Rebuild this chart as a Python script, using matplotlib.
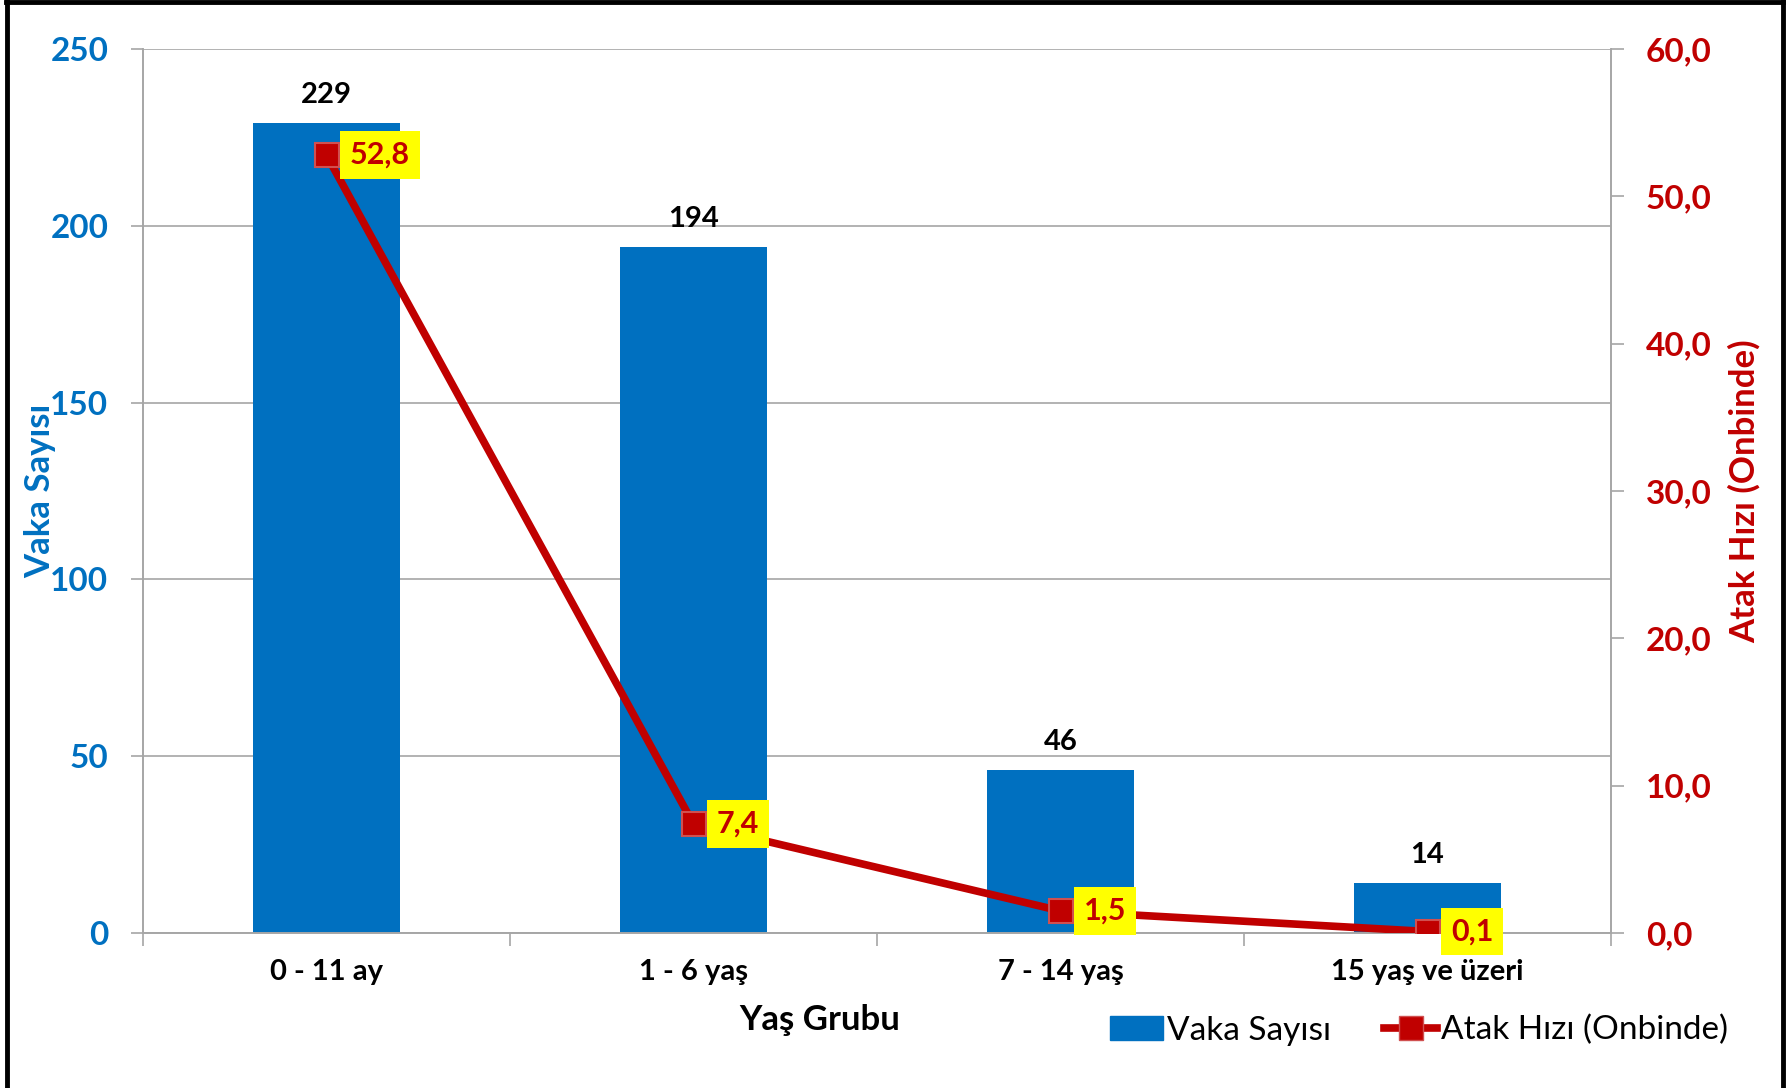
import numpy as np
import matplotlib
matplotlib.use("Agg")
import matplotlib.pyplot as plt
from matplotlib.lines import Line2D
from matplotlib.patches import Patch

plt.rcParams["font.family"] = ["Lato", "DejaVu Sans"]

# --- data ---
age_groups = ["0 - 11 ay", "1 - 6 yaş", "7 - 14 yaş", "15 yaş ve üzeri"]
case_counts = [229, 194, 46, 14]
attack_rates = [52.8, 7.4, 1.5, 0.1]

BLUE = "#0070C0"
RED = "#C00000"
GRID = "#A6A6A6"

fig = plt.figure(figsize=(17.91, 10.88), dpi=100)
ax = fig.add_axes([143 / 1791, 155 / 1088, 1468 / 1791, 884 / 1088])
ax2 = ax.twinx()

x = np.arange(len(age_groups))
ax.bar(x, case_counts, width=0.4, color=BLUE, zorder=2)
for xi, v in zip(x, case_counts):
    ax.annotate(f"{v}", (xi, v), xytext=(0, 11), textcoords="offset points",
                ha="center", va="bottom", fontsize=21, fontweight="bold", color="black")

ax.set_xlim(-0.5, len(age_groups) - 0.5)
ax.set_ylim(0, 250)
ax.set_yticks(np.arange(0, 251, 50))
ax.yaxis.grid(True, color=GRID, linewidth=1.2, zorder=0)
ax.set_axisbelow(True)
ax.tick_params(axis="y", length=9, width=1.2, color=GRID, pad=16,
               labelsize=24, labelcolor=BLUE)
for lbl in ax.get_yticklabels():
    lbl.set_fontweight("bold")

# category ticks sit between the groups
ax.set_xticks(x)
ax.set_xticklabels(age_groups, fontsize=21, fontweight="bold")
ax.tick_params(axis="x", length=0, pad=19)
ax.set_xticks(np.arange(-0.5, len(age_groups)), minor=True)
ax.tick_params(axis="x", which="minor", length=9, width=1.2, color=GRID)

ax.spines["top"].set_visible(False)
ax2.spines["top"].set_visible(False)
for a in (ax, ax2):
    for sp in ["left", "right", "bottom"]:
        a.spines[sp].set_color(GRID)
        a.spines[sp].set_linewidth(1.2)

ax.set_ylabel("Vaka Sayısı", fontsize=25, fontweight="bold", color=BLUE, va="center")
ax.yaxis.set_label_coords(-0.070, 0.5)
ax.set_xlabel("Yaş Grubu", fontsize=25, fontweight="bold", color="black", va="center")
ax.xaxis.set_label_coords((820 - 143) / 1468, -0.098)

# --- attack rate line ---
ax2.plot(x, attack_rates, color=RED, linewidth=5.5, marker="s", markersize=17,
         markerfacecolor=RED, markeredgecolor="#D05050", markeredgewidth=1.5, zorder=3)
for xi, v in zip(x, attack_rates):
    ax2.annotate(f"{v:.1f}".replace(".", ","), (xi, v), xytext=(17, 0),
                 textcoords="offset points", ha="left", va="center",
                 fontsize=22, fontweight="bold", color=RED,
                 bbox=dict(boxstyle="square,pad=0.32", facecolor="#FFFF00", edgecolor="none"))
ax2.set_ylim(0, 60)
ax2.set_yticks(np.arange(0, 61, 10))
ax2.set_yticklabels([f"{t:.1f}".replace(".", ",") for t in np.arange(0, 61, 10)])
ax2.tick_params(axis="y", length=9, width=1.2, color=GRID, pad=16,
                labelsize=24, labelcolor=RED)
for lbl in ax2.get_yticklabels():
    lbl.set_fontweight("bold")
ax2.set_ylabel("Atak Hızı (Onbinde)", fontsize=25, fontweight="bold", color=RED, va="center")
ax2.yaxis.set_label_coords(1.0906, 0.5)

# --- legend ---
handles = [
    Patch(facecolor=BLUE, edgecolor=BLUE),
    Line2D([0], [0], color=RED, linewidth=5.5, marker="s", markersize=17,
           markerfacecolor=RED, markeredgecolor="#D05050"),
]
fig.legend(handles, ["Vaka Sayısı", "Atak Hızı (Onbinde)"], loc="center left",
           bbox_to_anchor=(1080 / 1791, 0.053), ncol=2, frameon=False,
           fontsize=24, handlelength=1.6, handletextpad=0.1, columnspacing=1.6)

# outer frame (top, left, right)
for xs, ys in [((6 / 1791, 1783 / 1791), (1 - 2 / 1088, 1 - 2 / 1088)),
               ((7 / 1791, 7 / 1791), (0, 1)),
               ((1783 / 1791, 1783 / 1791), (0, 1))]:
    fig.add_artist(Line2D(xs, ys, color="black", linewidth=3.5, transform=fig.transFigure))

fig.savefig("out.png", dpi=100)
